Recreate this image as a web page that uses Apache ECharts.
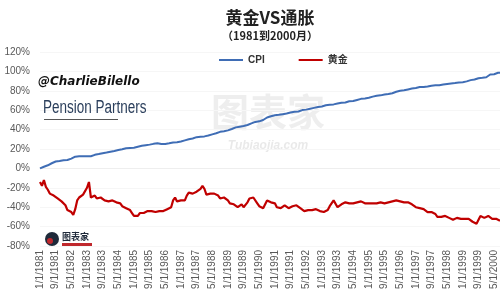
<!DOCTYPE html>
<html><head><meta charset="utf-8">
<script src="https://cdn.jsdelivr.net/npm/echarts@6/dist/echarts.min.js"></script>
<style>html,body{margin:0;padding:0;background:#fff}#c{width:500px;height:300px}</style>
</head><body><div id="c"></div>
<script>
const titleText = '黄金VS通胀';
const subtitleText = '（1981到2000月）';
const seriesNames = ['CPI', '黄金'];
const yTicks = [-80, -60, -40, -20, 0, 20, 40, 60, 80, 100, 120];
const startYear = 1981, monthCount = 236;
const months = [];
for (let i = 0; i < monthCount; i++) {
  const y = startYear + Math.floor(i / 12), m = i % 12 + 1;
  months.push(m + '/1/' + y);
}
const cpi = [
0,1.0,1.7,2.4,3.2,4.1,5.3,6.1,7.1,7.4,7.7,8.0,
8.4,8.7,8.6,9.1,10.1,11.5,12.1,12.3,12.5,12.9,12.6,12.2,
12.4,12.5,12.5,13.3,14.0,14.4,14.8,15.2,15.7,16.1,16.3,16.4,
17.1,17.7,17.9,18.5,18.9,19.2,19.7,20.1,20.7,21.0,21.0,21.0,
21.3,21.8,22.3,22.9,23.3,23.7,23.9,24.1,24.5,24.9,25.3,25.6,
26.0,25.6,25.1,24.8,25.2,25.9,25.9,26.1,26.7,26.8,26.9,27.0,
27.8,28.3,28.9,29.5,30.0,30.5,30.8,31.5,32.2,32.5,32.6,32.6,
33.0,33.3,33.9,34.6,35.1,35.6,36.2,36.8,37.7,38.2,38.3,38.5,
39.2,39.8,40.6,41.5,42.3,42.6,43.0,43.2,43.7,44.4,44.7,44.9,
46.4,47.1,47.9,48.2,48.5,49.3,49.9,51.3,52.5,53.4,53.8,53.8,
54.7,54.9,55.2,55.4,55.9,56.3,56.6,57.0,57.7,57.9,58.4,58.5,
58.7,59.3,60.1,60.3,60.6,61.1,61.5,62.0,62.4,63.0,63.2,63.1,
63.9,64.5,65.1,65.5,65.7,66.0,66.0,66.4,66.8,67.5,67.6,67.6,
68.0,68.6,69.2,69.4,69.5,70.1,70.6,71.3,71.7,71.8,72.1,72.1,
72.8,73.4,74.0,74.6,74.9,75.3,75.3,75.7,76.1,76.7,76.6,76.4,
77.5,78.0,79.0,79.7,80.0,80.1,80.5,80.8,81.4,82.0,82.3,82.3,
82.9,83.4,83.9,84.1,84.0,84.3,84.5,84.8,85.3,85.7,85.6,85.4,
85.7,86.1,86.4,86.8,87.1,87.4,87.6,87.8,88.0,88.5,88.5,88.4,
88.9,89.1,89.7,91.0,91.0,91.0,91.6,92.1,93.0,93.3,93.4,93.4,
94.0,95.2,96.8,96.9,97.1,98.2,98.6,98.6
];
const gold = [
-14,-18,-12,-19,-22,-26,-28,-28,-27,-31,-33,-34,
-36,-38,-43,-41,-45,-48,-42,-33,-30,-29,-27,-26,
-20,-14,-30,-28,-28,-31,-29,-30,-31,-33,-35,-34,
-35,-33,-33,-35,-36,-36,-39,-41,-41,-42,-43,-46,
-49,-51,-49,-46,-47,-46,-46,-44,-45,-44,-44,-45,
-43,-44,-43,-44,-43,-42,-41,-40,-33,-30,-34,-35,
-33,-34,-33,-28,-25,-26,-26,-24,-24,-23,-21,-18,
-21,-27,-28,-26,-25,-26,-27,-28,-31,-33,-30,-30,
-33,-36,-36,-37,-39,-40,-38,-37,-40,-40,-35,-31,
-31,-30,-32,-36,-39,-40,-41,-40,-33,-34,-35,-36,
-36,-40,-40,-41,-41,-38,-38,-41,-42,-39,-38,-38,
-40,-41,-43,-44,-44,-43,-41,-43,-42,-42,-44,-44,
-45,-45,-45,-43,-39,-38,-33,-35,-40,-39,-37,-36,
-35,-36,-36,-37,-36,-35,-35,-36,-34,-35,-36,-36,
-36,-37,-36,-35,-36,-35,-35,-36,-36,-36,-35,-35,
-34,-32,-33,-34,-34,-35,-35,-35,-35,-36,-37,-38,
-40,-41,-41,-42,-42,-43,-45,-45,-45,-45,-47,-50,
-51,-50,-50,-49,-50,-51,-51,-53,-52,-51,-51,-52,
-51,-52,-52,-52,-53,-55,-57,-57,-55,-49,-50,-51,
-51,-49,-51,-52,-53,-52,-53,-54
];
const watermarkHandle = '@CharlieBilello';
const watermarkBrand = 'Pension Partners';
const watermarkCenter = '图表家';
const watermarkSite = 'Tubiaojia.com';

const chart = echarts.init(document.getElementById('c'), null, {renderer: 'canvas'});
const font = '"Liberation Sans", "Noto Sans CJK SC", sans-serif';
chart.setOption({
  animation: false,
  backgroundColor: '#fff',
  textStyle: {fontFamily: font},
  grid: {left: 40, right: 0, top: 52, bottom: 54, containLabel: false},
  legend: {
    data: seriesNames, top: 50, left: 214, itemWidth: 24, itemHeight: 2, itemGap: 34,
    icon: 'rect',
    textStyle: {fontSize: 10, color: '#333', fontWeight: 'bold', fontFamily: font}
  },
  graphic: [
    {type: 'text', x: 270, y: 18, z: 10, style: {text: titleText, align: 'center', verticalAlign: 'middle', textAlign: 'center', textVerticalAlign: 'middle', font: 'bold 17px "Noto Sans CJK SC", sans-serif', fill: '#222'}},
    {type: 'text', x: 270, y: 36, z: 10, style: {text: subtitleText, align: 'center', verticalAlign: 'middle', textAlign: 'center', textVerticalAlign: 'middle', font: 'bold 11px "Noto Sans CJK SC", sans-serif', fill: '#222'}},
    {type: 'text', x: 268, y: 112, z: 0, style: {text: watermarkCenter, align: 'center', verticalAlign: 'middle', textAlign: 'center', textVerticalAlign: 'middle', font: 'bold 38px "Noto Sans CJK SC", sans-serif', fill: 'rgba(200,200,200,0.3)'}},
    {type: 'text', x: 268, y: 146, z: 0, style: {text: watermarkSite, align: 'center', verticalAlign: 'middle', textAlign: 'center', textVerticalAlign: 'middle', font: 'bold italic 12px "Liberation Sans", sans-serif', fill: 'rgba(200,200,200,0.4)'}},
    {type: 'text', x: 38, y: 82, z: 10, style: {text: watermarkHandle, verticalAlign: 'middle', textVerticalAlign: 'middle', font: 'bold italic 12px "DejaVu Sans", sans-serif', fill: '#111'}},
    {type: 'text', x: 43, y: 108, z: 10, scaleX: 0.75, style: {text: watermarkBrand, verticalAlign: 'middle', textVerticalAlign: 'middle', font: '18px "Liberation Sans", sans-serif', fill: '#2b3f5c'}},
    {type: 'rect', z: 10, shape: {x: 44, y: 119, width: 74, height: 1}, style: {fill: '#555'}},
    {type: 'circle', z: 10, shape: {cx: 52, cy: 239, r: 7}, style: {fill: '#1f2a3a'}},
    {type: 'circle', z: 10, shape: {cx: 50, cy: 241, r: 3}, style: {fill: '#c0282d'}},
    {type: 'text', x: 62, y: 237, z: 10, style: {text: watermarkCenter, verticalAlign: 'middle', textVerticalAlign: 'middle', font: 'bold 9px "Noto Sans CJK SC", sans-serif', fill: '#1f2a3a'}},
    {type: 'rect', z: 10, shape: {x: 62, y: 243, width: 30, height: 3}, style: {fill: '#c0282d'}}
  ],
  xAxis: {
    type: 'category', data: months, boundaryGap: false,
    axisLine: {show: true, lineStyle: {color: '#eeeeee'}},
    axisTick: {show: false},
    axisLabel: {interval: 7, rotate: 90, fontSize: 10, color: '#595959', margin: 4, fontFamily: font},
    splitLine: {show: false}
  },
  yAxis: {
    type: 'value', min: yTicks[0], max: yTicks[yTicks.length - 1], interval: 20,
    axisLine: {show: false}, axisTick: {show: false},
    axisLabel: {formatter: '{value}%', fontSize: 10, color: '#595959', margin: 10, fontFamily: font},
    splitLine: {show: true, lineStyle: {color: '#f6f6f6', width: 1}}
  },
  series: [
    {name: seriesNames[0], type: 'line', data: cpi, symbol: 'none', lineStyle: {color: '#3f6db5', width: 2}, itemStyle: {color: '#3f6db5'}, z: 5},
    {name: seriesNames[1], type: 'line', data: gold, symbol: 'none', lineStyle: {color: '#c00000', width: 2.2}, itemStyle: {color: '#c00000'}, z: 5}
  ]
});
</script></body></html>
